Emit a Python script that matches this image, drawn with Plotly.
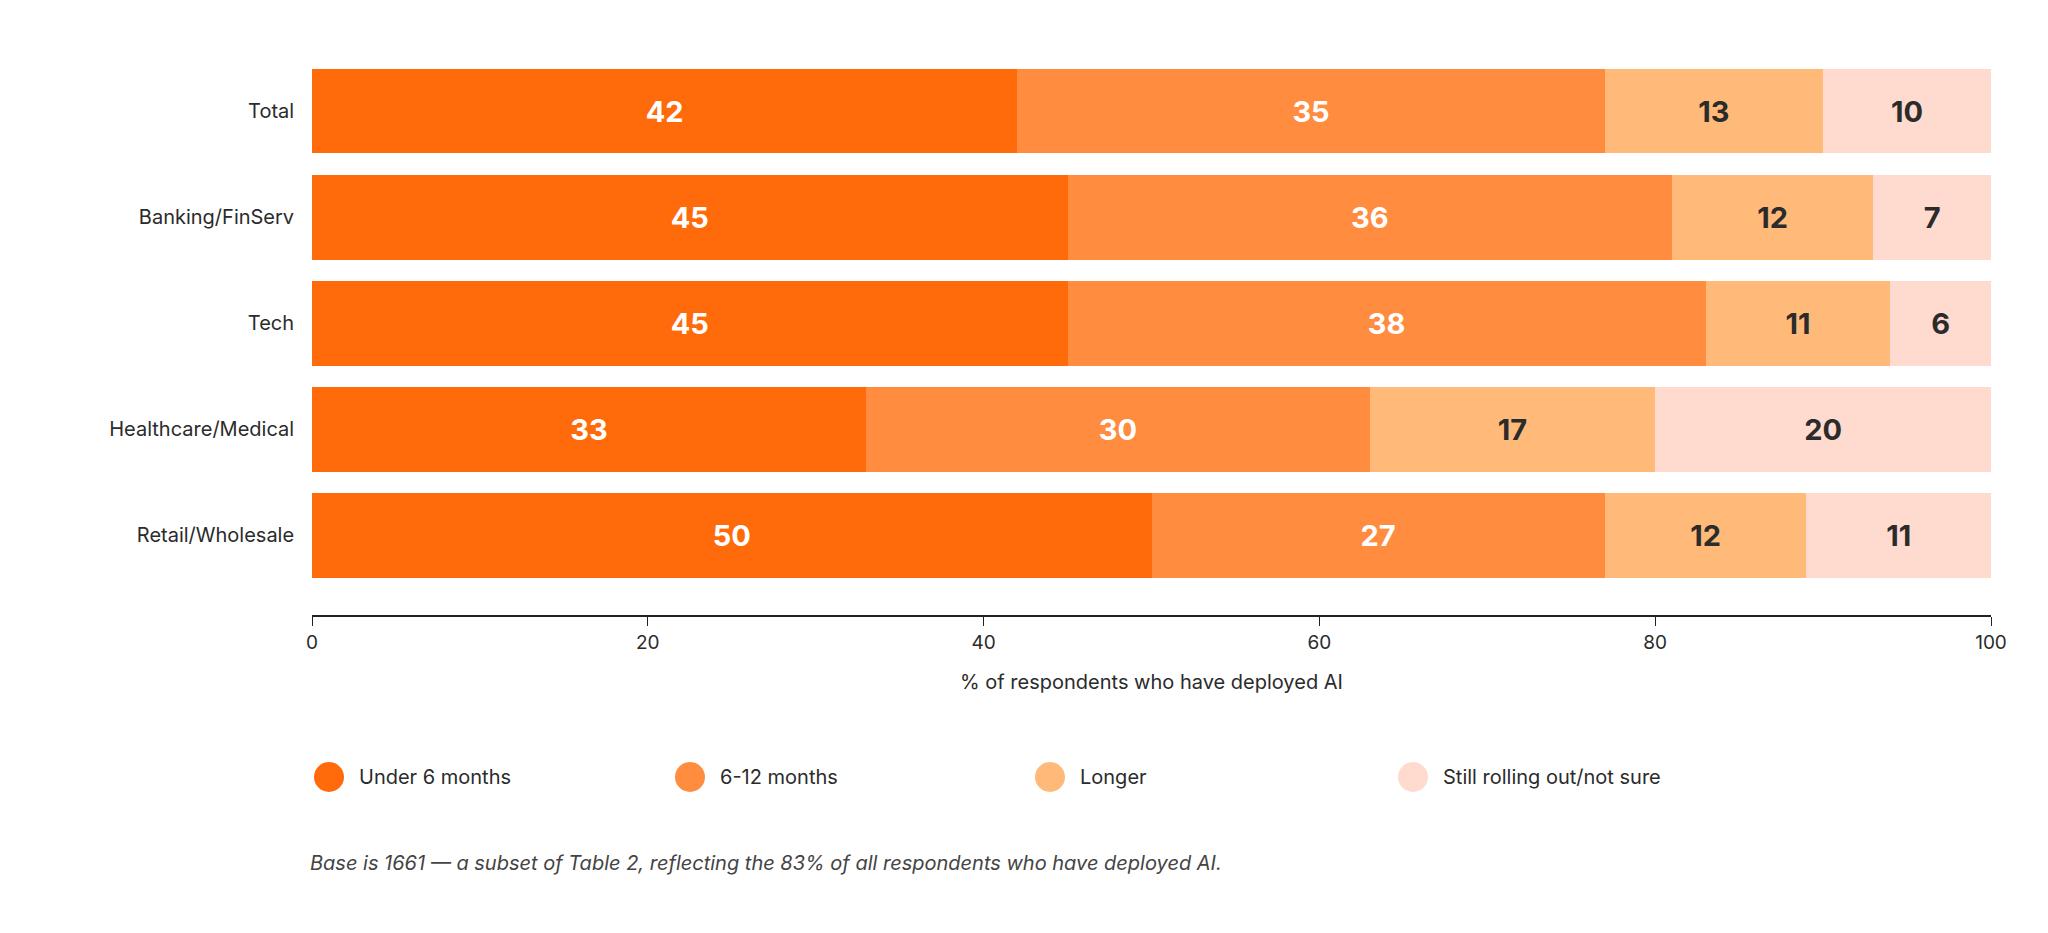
import plotly.graph_objects as go

CATEGORIES = ["Total", "Banking/FinServ", "Tech", "Healthcare/Medical", "Retail/Wholesale"]
SERIES = ["Under 6 months", "6-12 months", "Longer", "Still rolling out/not sure"]
VALUES = [
    [42, 45, 45, 33, 50],
    [35, 36, 38, 30, 27],
    [13, 12, 11, 17, 12],
    [10, 7, 6, 20, 11],
]
COLORS = ["#FF6A0A", "#FF8C3F", "#FFB979", "#FFDBCF"]
TEXT_COLORS = ["white", "white", "#2B2B2B", "#2B2B2B"]
TICKS = [0, 20, 40, 60, 80, 100]
FONT = "Inter, Roboto, sans-serif"

fig = go.Figure()
for name, vals, col, tcol in zip(SERIES, VALUES, COLORS, TEXT_COLORS):
    fig.add_trace(go.Bar(
        y=CATEGORIES, x=vals, name=name, orientation="h",
        marker=dict(color=col, line=dict(width=0)),
        text=[str(v) for v in vals], textposition="inside",
        insidetextanchor="middle",
        textfont=dict(color=tcol, size=29, family=FONT, weight="bold"),
        showlegend=False, hoverinfo="skip",
    ))

# legend drawn by hand to get large circles
shapes = []
annotations = []
leg_x = [321, 682, 1042, 1405]
for i, (name, col) in enumerate(zip(SERIES, COLORS)):
    x0 = leg_x[i] / 2048
    shapes.append(dict(type="circle", xref="paper", yref="paper",
                       xsizemode="pixel", ysizemode="pixel",
                       xanchor=x0 * 1 if False else leg_x[i], yanchor=933 - 769,
                       x0=-15, x1=15, y0=-15, y1=15,
                       fillcolor=col, line=dict(width=0)))
    annotations.append(dict(text=name, xref="paper", yref="paper",
                            x=(leg_x[i] + 28 - 304) / (1983 - 304),
                            y=-(769 - 607) / (607 - 50),
                            xanchor="left", yanchor="middle", showarrow=False,
                            font=dict(size=20, color="#2B2B2B", family=FONT)))

# fix shape anchors to paper fractions
for s in shapes:
    s["xanchor"] = (s["xanchor"] - 304) / (1983 - 304)
    s["yanchor"] = -(769 - 607) / (607 - 50)

annotations.append(dict(
    text="<i>Base is 1661 — a subset of Table 2, reflecting the 83% of all respondents who have deployed AI.</i>",
    xref="paper", yref="paper", x=(300 - 304) / (1983 - 304),
    y=-(855 - 607) / (607 - 50), xanchor="left", yanchor="middle",
    showarrow=False, font=dict(size=20, color="#444444", family=FONT)))

fig.update_layout(
    barmode="stack",
    bargap=0.2,
    width=2048, height=933,
    margin=dict(l=304, r=65, t=50, b=326),
    plot_bgcolor="white", paper_bgcolor="white",
    font=dict(family=FONT, color="#2B2B2B"),
    shapes=shapes,
    annotations=annotations,
    xaxis=dict(
        range=[0, 100], tickvals=TICKS, showgrid=False, zeroline=False,
        showline=True, linecolor="#222222", linewidth=1.5,
        ticks="outside", ticklen=9, tickcolor="#222222",
        tickfont=dict(size=19), title=dict(text="% of respondents who have deployed AI",
                                           font=dict(size=20), standoff=22),
    ),
    yaxis=dict(
        range=[4.75, -0.5], showgrid=False, zeroline=False, showline=False,
        tickfont=dict(size=20), ticksuffix="   ",
    ),
)

fig.write_html("out.html")
